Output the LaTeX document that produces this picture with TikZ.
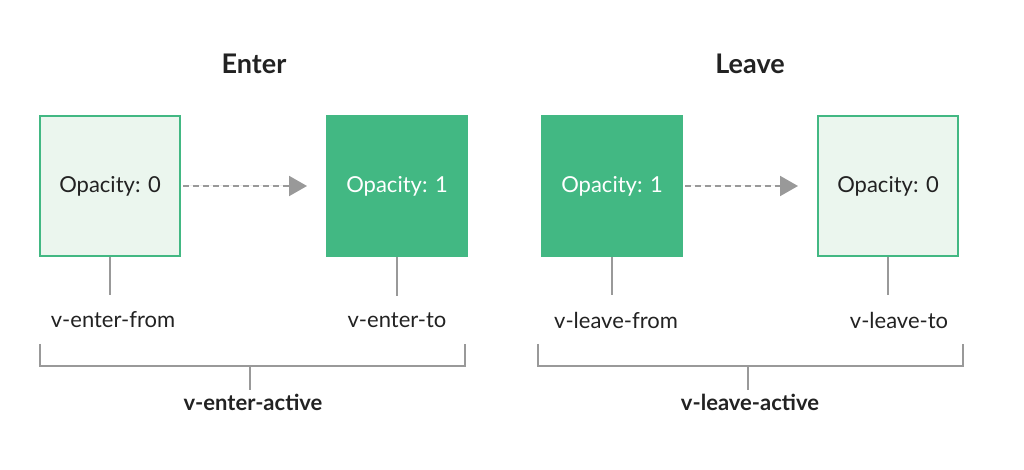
\documentclass[tikz,border=0pt]{standalone}
\usepackage{fontspec}
\setmainfont{Lato}
\usepackage{xcolor}
\definecolor{vuegreen}{HTML}{42B883}
\definecolor{palegreen}{HTML}{EBF6EE}
\definecolor{linegray}{HTML}{999999}
\definecolor{textdark}{HTML}{222222}
\usetikzlibrary{arrows.meta,positioning}

\begin{document}
\begin{tikzpicture}[x=1pt, y=1pt,
  emptybox/.style={rectangle, draw=vuegreen, fill=palegreen, line width=2pt, minimum width=140pt, minimum height=140pt, text=textdark, font=\fontsize{22}{26}\selectfont},
  fullbox/.style={rectangle, draw=vuegreen, fill=vuegreen, line width=2pt, minimum width=140pt, minimum height=140pt, text=white, font=\fontsize{22}{26}\selectfont},
  classlabel/.style={text=textdark, font=\fontsize{22}{26}\selectfont},
  activelabel/.style={text=textdark, font=\bfseries\fontsize{22}{26}\selectfont},
  titlelabel/.style={text=textdark, font=\bfseries\fontsize{27}{30}\selectfont},
  dasharrow/.style={-{Triangle[length=18pt, width=20pt]}, draw=linegray, fill=linegray, line width=2pt, dash pattern=on 6pt off 4pt},
  tick/.style={draw=linegray, line width=2pt}
]
\useasboundingbox (0,0) rectangle (1024,470);

% Enter
\node[titlelabel] (entertitle) at (254, 406) {Enter};
\node[emptybox] (enterfrom) at (110, 284) {Opacity: 0};
\node[fullbox] (enterto) at (397, 284) {Opacity: 1};
\node[classlabel] (enterfromlbl) at (113, 150) {v-enter-from};
\node[classlabel] (entertolbl) at (397, 150) {v-enter-to};
\node[activelabel] (enteractive) at (253, 68) {v-enter-active};

% Leave
\node[titlelabel] (leavetitle) at (750, 406) {Leave};
\node[fullbox] (leavefrom) at (612, 284) {Opacity: 1};
\node[emptybox] (leaveto) at (888, 284) {Opacity: 0};
\node[classlabel] (leavefromlbl) at (616, 150) {v-leave-from};
\node[classlabel] (leavetolbl) at (899, 150) {v-leave-to};
\node[activelabel] (leaveactive) at (750, 68) {v-leave-active};

% Transitions
\draw[dasharrow, yshift=-3pt, shorten <=2pt, shorten >=19pt] (enterfrom.east) -- (enterto.west);
\draw[dasharrow, yshift=-3pt, shorten <=2pt, shorten >=19pt] (leavefrom.east) -- (leaveto.west);

% Class ticks
\draw[tick, shorten >=13pt] (enterfrom.south) -- (enterfrom.south |- enterfromlbl.north);
\draw[tick, shorten >=13pt] (enterto.south) -- (enterto.south |- entertolbl.north);
\draw[tick, shorten >=13pt] (leavefrom.south) -- (leavefrom.south |- leavefromlbl.north);
\draw[tick, shorten >=13pt] (leaveto.south) -- (leaveto.south |- leavetolbl.north);

% Brackets
\coordinate (enterbrk) at (250, 104);
\coordinate (leavebrk) at (748, 104);
\draw[tick] (40, 126) -- (40, 104) -- (465, 104) -- (465, 126);
\draw[tick] (enterbrk) -- (enterbrk |- enteractive.north);
\draw[tick] (538, 126) -- (538, 104) -- (963, 104) -- (963, 126);
\draw[tick] (leavebrk) -- (leavebrk |- leaveactive.north);

\end{tikzpicture}
\end{document}
